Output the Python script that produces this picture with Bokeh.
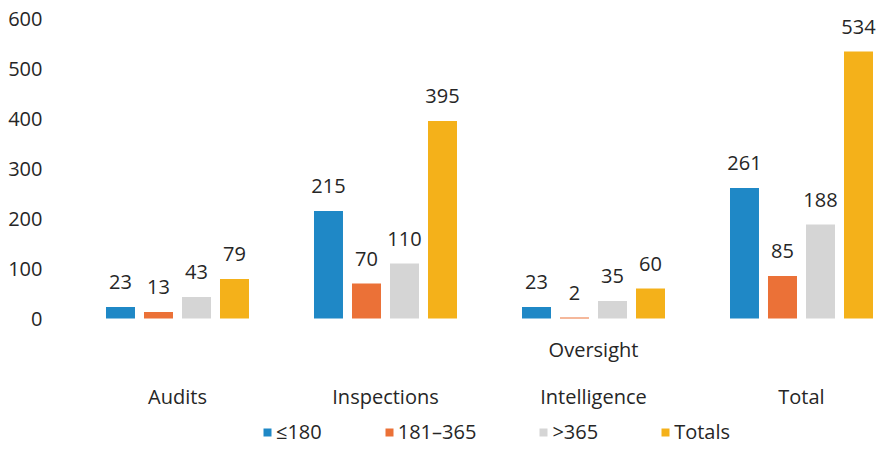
from bokeh.plotting import figure
from bokeh.models import ColumnDataSource, Range1d, FixedTicker, Legend, LegendItem
from bokeh.core.properties import value
from bokeh.embed import file_html
from bokeh.resources import INLINE

categories = ["Audits", "Inspections", "Intelligence", "Total"]
extra_label = "Oversight"
series_names = ["\u2264180", "181\u2013365", ">365", "Totals"]
le180 = [23, 215, 23, 261]
r181_365 = [13, 70, 2, 85]
gt365 = [43, 110, 35, 188]
totals = [79, 395, 60, 534]
y_ticks = [0, 100, 200, 300, 400, 500, 600]

colors = ["#1F88C6", "#EB7137", "#D5D5D5", "#F4B11A"]
FONT = "Open Sans"
TXT = "#262626"
FS = "20px"

p = figure(width=877, height=445, output_backend="svg", toolbar_location=None,
           x_range=Range1d(-0.5817, 3.3654), y_range=Range1d(-254, 636),
           min_border=0, min_border_left=56)
p.outline_line_color = None
p.xgrid.visible = False
p.ygrid.visible = False
p.xaxis.visible = False
p.yaxis.ticker = FixedTicker(ticks=y_ticks)
p.yaxis.axis_line_color = None
p.yaxis.major_tick_line_color = None
p.yaxis.minor_tick_line_color = None
p.yaxis.major_label_standoff = 8
p.yaxis.major_label_text_font = FONT
p.yaxis.major_label_text_font_size = FS
p.yaxis.major_label_text_color = TXT

pitch = 0.1827
width = 0.1394
offsets = [-1.5 * pitch, -0.5 * pitch, 0.5 * pitch, 1.5 * pitch]
idx = list(range(len(categories)))

renderers = []
for vals, off, col in zip([le180, r181_365, gt365, totals], offsets, colors):
    src = ColumnDataSource(dict(x=[i + off for i in idx], top=vals,
                                lbl=[str(v) for v in vals]))
    r = p.vbar(x="x", top="top", bottom=0, width=width, source=src,
               fill_color=col, line_color=None)
    renderers.append(r)
    p.text(x="x", y="top", text="lbl", source=src, text_align="center",
           text_baseline="middle", y_offset=-25, text_font=value(FONT),
           text_font_size=FS, text_color=TXT)

cat_src = ColumnDataSource(dict(x=idx, y=[-156] * len(categories), t=categories))
p.text(x="x", y="y", text="t", source=cat_src, text_align="center",
       text_baseline="middle", text_font=value(FONT), text_font_size=FS,
       text_color=TXT)
over_src = ColumnDataSource(dict(x=[2], y=[-62], t=[extra_label]))
p.text(x="x", y="y", text="t", source=over_src, text_align="center",
       text_baseline="middle", text_font=value(FONT), text_font_size=FS,
       text_color=TXT)

legend = Legend(items=[LegendItem(label=n, renderers=[r]) for n, r in zip(series_names, renderers)],
                orientation="horizontal", location=(206, 0),
                glyph_width=10, glyph_height=10, label_standoff=4, spacing=62,
                padding=0, margin=0, border_line_color=None,
                background_fill_alpha=0,
                label_text_font=FONT, label_text_font_size=FS,
                label_text_color=TXT)
p.add_layout(legend)

open("out.html", "w").write(file_html(p, INLINE))
